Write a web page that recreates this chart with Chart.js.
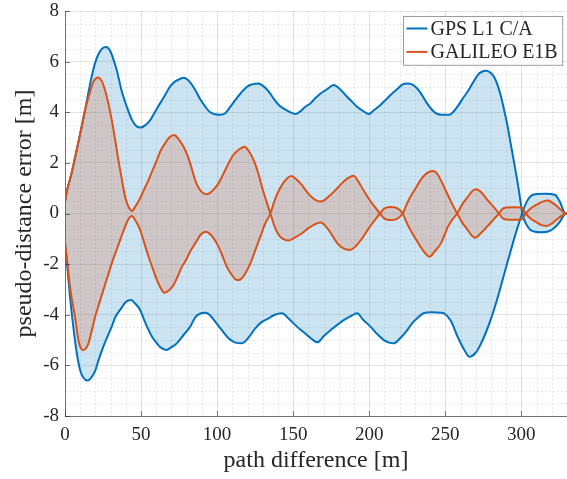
<!DOCTYPE html>
<html>
<head>
<meta charset="utf-8">
<script src="https://cdn.jsdelivr.net/npm/chart.js@4"></script>
<style>
  body { margin: 0; background: #fff; }
  #wrap { width: 567px; height: 479px; position: relative; }
</style>
</head>
<body>
<div id="wrap"><canvas id="canvas"></canvas></div>
<script>
// GPS L1 C/A: obere und untere Fehlerkurve
const gpsUpperX = [0, 1.3, 3.3, 5.5, 7.7, 10.5, 13.2, 15.3, 17.5, 19.7, 22, 24.5, 27, 29.5, 31.5, 34, 37, 40.6, 44, 47, 50, 53, 56, 59, 62.5, 66, 69, 72, 75, 78, 82, 85.6, 89, 92.2, 95, 98.7, 102, 105.3, 108.5, 111.9, 115.5, 119.6, 123, 127, 130, 133.9, 137, 140.5, 145, 148, 151.4, 155, 158, 161.3, 164.5, 168, 172, 176.7, 181, 185.4, 189, 192, 196, 199.7, 203, 207.4, 211, 214, 218, 222, 225, 228, 231.5, 235, 238, 242, 245, 248, 252.6, 255, 258, 261, 264.7, 268, 271.3, 274, 277, 280, 282.2, 284.5, 286.6, 289, 291, 293, 295.4, 298, 300.7, 303, 306, 309, 313, 317, 321, 325, 328.5, 330];
const gpsUpperY = [0.45, 0.9, 1.35, 1.9, 2.51, 3.3, 4.09, 4.75, 5.4, 5.93, 6.3, 6.52, 6.58, 6.45, 6.15, 5.67, 4.9, 4.22, 3.7, 3.45, 3.4, 3.5, 3.69, 4.0, 4.35, 4.7, 5.01, 5.2, 5.3, 5.36, 5.2, 4.88, 4.5, 4.22, 4.02, 3.92, 3.9, 3.96, 4.2, 4.48, 4.75, 5.01, 5.1, 5.14, 5.05, 4.82, 4.55, 4.29, 4.1, 4.0, 3.93, 4.05, 4.22, 4.35, 4.55, 4.74, 4.9, 5.08, 4.9, 4.61, 4.4, 4.22, 4.05, 3.93, 4.08, 4.29, 4.5, 4.68, 4.9, 5.1, 5.14, 5.1, 4.94, 4.65, 4.35, 4.05, 3.93, 3.9, 3.9, 4.0, 4.22, 4.5, 4.82, 5.15, 5.47, 5.6, 5.64, 5.55, 5.38, 5.05, 4.62, 4.0, 3.43, 2.75, 1.95, 1.05, 0, -0.4, -0.65, -0.72, -0.74, -0.72, -0.6, -0.35, -0.03, 0];

const gpsLowerX = [0, 1.5, 3.3, 5.5, 7.7, 10, 12, 14.7, 17, 19.7, 22, 25.2, 28, 30.7, 33, 36.2, 40, 43.5, 46, 49.4, 52, 54.9, 57.5, 60.4, 63, 66.5, 70, 73.5, 77.9, 82.3, 85.6, 89, 92.2, 95, 98.7, 103, 107.5, 112, 116.3, 120, 125.1, 129, 133.9, 138, 142.7, 147, 151.4, 155, 158, 162, 165.9, 170, 174.5, 179, 183.2, 188, 192, 196, 200.8, 205, 209.6, 213, 216.2, 220, 225, 228, 231.5, 236, 241, 246.9, 249.3, 253.7, 258.1, 262.5, 265.8, 270, 273, 276, 279.2, 282, 285, 288, 291, 294.5, 297.5, 300.5, 303, 306, 310, 316, 322, 325, 328.5, 330];
const gpsLowerY = [-1.15, -2.1, -3.3, -4.5, -5.5, -6.2, -6.48, -6.6, -6.5, -6.24, -5.8, -5.26, -4.85, -4.47, -4.1, -3.81, -3.5, -3.42, -3.55, -3.81, -4.2, -4.6, -4.9, -5.13, -5.3, -5.39, -5.28, -5.13, -4.8, -4.47, -4.1, -3.95, -3.92, -4.0, -4.27, -4.6, -4.93, -5.1, -5.13, -4.95, -4.54, -4.3, -4.14, -4.0, -3.94, -4.15, -4.41, -4.6, -4.74, -4.95, -5.09, -4.85, -4.61, -4.4, -4.21, -4.05, -3.94, -4.2, -4.47, -4.75, -5.0, -5.1, -5.13, -4.95, -4.61, -4.35, -4.14, -3.93, -3.9, -3.92, -3.95, -4.25, -4.87, -5.39, -5.66, -5.5, -5.2, -4.8, -4.3, -3.8, -3.2, -2.55, -1.9, -1.15, -0.55, 0, 0.4, 0.68, 0.77, 0.78, 0.74, 0.5, 0.03, 0];

// GALILEO E1B: die beiden Kurven kreuzen sich mehrmals
const galAX = [0, 1.3, 3.3, 5.5, 7.7, 10.5, 13.2, 16, 18.7, 21.9, 24, 26.3, 28.5, 30.7, 33, 35.1, 37.5, 39.5, 41.5, 43.9, 46.5, 49.4, 52, 54.9, 57.5, 60.4, 63, 65.8, 68.5, 71.8, 74.5, 77.9, 80.5, 82.3, 85.6, 88.5, 91, 93.3, 96, 98.5, 100.9, 104, 107.5, 110.5, 114, 118, 121, 124, 127, 129.5, 132.3, 135, 138.3, 141, 144, 147.1, 151, 155.8, 160, 164.5, 168, 172, 175.5, 179.1, 183, 187.4, 191, 196.2, 199.5, 202.8, 207, 210, 214, 218, 222, 224.5, 227.1, 230.5, 233.7, 236.5, 239.6, 243, 246.9, 249.5, 251.5, 254.5, 257.8, 261, 264.7, 268, 270.5, 273.5, 277.8, 281.5, 285.3, 287.5, 290, 295, 300, 302.9, 306, 310, 314, 317.5, 321, 325, 328.5, 330];
const galAY = [0.45, 0.9, 1.35, 1.9, 2.51, 3.3, 4.09, 4.7, 5.21, 5.37, 5.25, 4.88, 4.35, 3.7, 2.9, 2.11, 1.3, 0.66, 0.3, 0.1, 0.3, 0.6, 0.95, 1.32, 1.7, 2.11, 2.5, 2.77, 3.0, 3.1, 2.95, 2.64, 2.3, 1.98, 1.31, 0.95, 0.8, 0.76, 0.85, 1.0, 1.19, 1.55, 1.98, 2.3, 2.51, 2.64, 2.45, 2.11, 1.6, 1.05, 0.5, 0, -0.6, -0.88, -1.02, -1.07, -0.95, -0.78, -0.58, -0.42, -0.36, -0.55, -0.85, -1.18, -1.38, -1.44, -1.3, -0.91, -0.6, -0.33, 0, 0.2, 0.26, 0.22, 0, -0.35, -0.65, -1.0, -1.31, -1.55, -1.71, -1.5, -1.2, -0.85, -0.55, -0.25, 0, 0.35, 0.65, 0.9, 0.96, 0.85, 0.53, 0.28, 0, -0.18, -0.24, -0.25, -0.24, 0, 0.2, 0.35, 0.47, 0.51, 0.4, 0.2, 0.02, 0];

const galBX = [0, 1.3, 2.5, 4, 6.6, 8.8, 10.2, 11.6, 13.5, 15.4, 17.5, 19.8, 22.5, 25.2, 28, 30.7, 33.5, 36.2, 39, 41.5, 43.9, 46.5, 49.4, 52, 54.9, 57.5, 60.4, 63, 65.2, 68, 71.3, 74, 76.8, 79, 82.3, 85.6, 89, 92.6, 96, 99.8, 103, 106.4, 110, 113, 115.5, 118.5, 122, 125.1, 128.5, 131.6, 135, 138, 140.5, 144, 148.8, 152, 155.8, 159, 163, 167.9, 171, 174.5, 179, 183.2, 186.5, 189.7, 193, 196.2, 199.5, 202.8, 207, 210, 214, 218, 222, 224.5, 227.1, 230.5, 233.7, 237, 240, 242.2, 244.9, 248, 251.5, 254.5, 257.8, 261, 264.7, 267.5, 269.8, 273, 277.8, 281.5, 285.3, 287.5, 290, 295, 300, 302.9, 306, 310, 313, 316.5, 320, 324, 328.5, 330];
const galBY = [-1.15, -1.8, -2.5, -3.2, -4.1, -5.0, -5.3, -5.39, -5.35, -5.13, -4.65, -4.08, -3.55, -3.02, -2.5, -1.97, -1.5, -1.05, -0.6, -0.25, -0.1, -0.3, -0.65, -1.15, -1.7, -2.15, -2.62, -2.95, -3.13, -3.05, -2.83, -2.5, -2.11, -1.9, -1.5, -1.18, -0.85, -0.72, -0.85, -1.18, -1.6, -2.11, -2.45, -2.63, -2.6, -2.37, -1.95, -1.45, -0.9, -0.4, 0, 0.55, 0.9, 1.25, 1.48, 1.35, 1.12, 0.85, 0.6, 0.47, 0.55, 0.73, 1.0, 1.26, 1.42, 1.49, 1.25, 0.92, 0.6, 0.33, 0, -0.2, -0.26, -0.22, 0, 0.35, 0.66, 1.0, 1.32, 1.55, 1.66, 1.68, 1.55, 1.2, 0.75, 0.38, 0, -0.35, -0.65, -0.88, -0.96, -0.8, -0.5, -0.25, 0, 0.18, 0.24, 0.25, 0.24, 0, -0.2, -0.35, -0.45, -0.49, -0.4, -0.2, -0.02, 0];

const seriesNames = ['GPS L1 C/A', 'GALILEO E1B'];
const xMin = 0, xMax = 330, xStep = 50, xMinorStep = 10;
const yMin = -8, yMax = 8, yStep = 2, yMinorStep = 0.5;

const blue = '#0072BD';
const orange = '#D95319';
const serif = '"Liberation Serif", "DejaVu Serif", serif';
const axisInk = '#262626';

function toPoints(xs, ys) {
  return xs.map((x, i) => ({ x: x, y: ys[i] }));
}

function curve(label, xs, ys, color, fill, bg, order) {
  return {
    label: label,
    data: toPoints(xs, ys),
    borderColor: color,
    borderWidth: 2,
    backgroundColor: bg,
    fill: fill,
    pointRadius: 0,
    cubicInterpolationMode: 'monotone',
    order: order
  };
}

// Nebengitter + Ticks nach innen (wie in MATLAB)
const minorGrid = {
  id: 'minorGrid',
  beforeDraw(chart) {
    const { ctx, chartArea: a, scales: { x, y } } = chart;
    ctx.save();
    ctx.strokeStyle = 'rgba(38,38,38,0.1)';
    ctx.lineWidth = 1;
    ctx.setLineDash([2, 2]);
    ctx.beginPath();
    for (let v = xMin; v <= xMax + 1e-9; v += xMinorStep) {
      if (v % xStep === 0) continue;
      const px = Math.round(x.getPixelForValue(v)) + 0.5;
      ctx.moveTo(px, a.top);
      ctx.lineTo(px, a.bottom);
    }
    for (let v = yMin; v <= yMax + 1e-9; v += yMinorStep) {
      if (Math.abs(v % yStep) < 1e-9) continue;
      const py = Math.round(y.getPixelForValue(v)) + 0.5;
      ctx.moveTo(a.left, py);
      ctx.lineTo(a.right, py);
    }
    ctx.stroke();
    ctx.restore();
  },
  afterDatasetsDraw(chart) {
    const { ctx, chartArea: a, scales: { x, y } } = chart;
    ctx.save();
    ctx.strokeStyle = 'rgba(38,38,38,0.6)';
    ctx.lineWidth = 1;
    ctx.beginPath();
    x.ticks.forEach(t => {
      const px = Math.round(x.getPixelForValue(t.value)) + 0.5;
      ctx.moveTo(px, a.bottom);
      ctx.lineTo(px, a.bottom - 5);
    });
    y.ticks.forEach(t => {
      const py = Math.round(y.getPixelForValue(t.value)) + 0.5;
      ctx.moveTo(a.left, py);
      ctx.lineTo(a.left + 5, py);
    });
    ctx.stroke();
    ctx.restore();
  }
};

// Legende oben rechts im Plotbereich
const legendBox = {
  id: 'legendBox',
  afterDraw(chart) {
    const { ctx, chartArea: a } = chart;
    const items = [
      { text: seriesNames[0], color: blue },
      { text: seriesNames[1], color: orange }
    ];
    ctx.save();
    ctx.font = '20px ' + serif;
    const textW = Math.max(...items.map(it => ctx.measureText(it.text).width));
    const rowH = 23.4;
    const w = 3 + 21 + 3 + textW + 5;
    const h = rowH * items.length + 2;
    const x0 = Math.round(a.right - 5 - w) + 0.5;
    const y0 = Math.round(a.top + 5) + 0.5;
    ctx.fillStyle = '#fff';
    ctx.fillRect(x0, y0, w, h);
    ctx.strokeStyle = 'rgba(38,38,38,0.45)';
    ctx.lineWidth = 1;
    ctx.strokeRect(x0, y0, w, h);
    items.forEach((it, i) => {
      const cy = y0 + 12 + i * rowH;
      ctx.strokeStyle = it.color;
      ctx.lineWidth = 2;
      ctx.beginPath();
      ctx.moveTo(x0 + 3, cy);
      ctx.lineTo(x0 + 24, cy);
      ctx.stroke();
      ctx.fillStyle = axisInk;
      ctx.textBaseline = 'middle';
      ctx.fillText(it.text, x0 + 27, cy + 1);
    });
    ctx.restore();
  }
};

const ctx = document.querySelector('#canvas');
const chart = new Chart(ctx, {
  type: 'line',
  data: {
    datasets: [
      curve(seriesNames[0], gpsUpperX, gpsUpperY, blue, false, 'rgba(0,114,189,0.2)', 2),
      curve('', gpsLowerX, gpsLowerY, blue, '-1', 'rgba(0,114,189,0.2)', 2),
      curve(seriesNames[1], galAX, galAY, orange, false, 'rgba(217,83,25,0.2)', 1),
      curve('', galBX, galBY, orange, '-1', 'rgba(217,83,25,0.2)', 1)
    ]
  },
  options: {
    responsive: true,
    maintainAspectRatio: false,
    animation: false,
    layout: { padding: { top: 11, right: 0, left: 0, bottom: 0 } },
    plugins: {
      legend: { display: false },
      tooltip: { enabled: false },
      filler: { drawTime: 'beforeDatasetsDraw' }
    },
    scales: {
      x: {
        type: 'linear',
        min: xMin,
        max: xMax,
        border: { display: true, color: 'rgba(38,38,38,0.6)', width: 1 },
        grid: { color: 'rgba(38,38,38,0.13)', drawTicks: false },
        ticks: {
          stepSize: xStep,
          includeBounds: false,
          padding: 8,
          color: axisInk,
          font: { family: serif, size: 19 }
        },
        title: {
          display: true,
          text: 'path difference [m]',
          color: axisInk,
          font: { family: serif, size: 24 },
          padding: { top: 0, bottom: 4 }
        },
        afterFit(scale) {
          scale.height = 63;
          scale.paddingLeft = 0;
          scale.paddingRight = 0;
        }
      },
      y: {
        min: yMin,
        max: yMax,
        border: { display: true, color: 'rgba(38,38,38,0.6)', width: 1 },
        grid: { color: 'rgba(38,38,38,0.13)', drawTicks: false },
        ticks: {
          stepSize: yStep,
          padding: 6,
          color: axisInk,
          font: { family: serif, size: 19 }
        },
        title: {
          display: true,
          text: 'pseudo-distance error [m]',
          color: axisInk,
          font: { family: serif, size: 24 },
          padding: { top: 10, bottom: 0 }
        },
        afterFit(scale) {
          scale.width = 65;
          scale.paddingTop = 0;
          scale.paddingBottom = 0;
        }
      }
    }
  },
  plugins: [minorGrid, legendBox]
});
</script>
</body>
</html>
